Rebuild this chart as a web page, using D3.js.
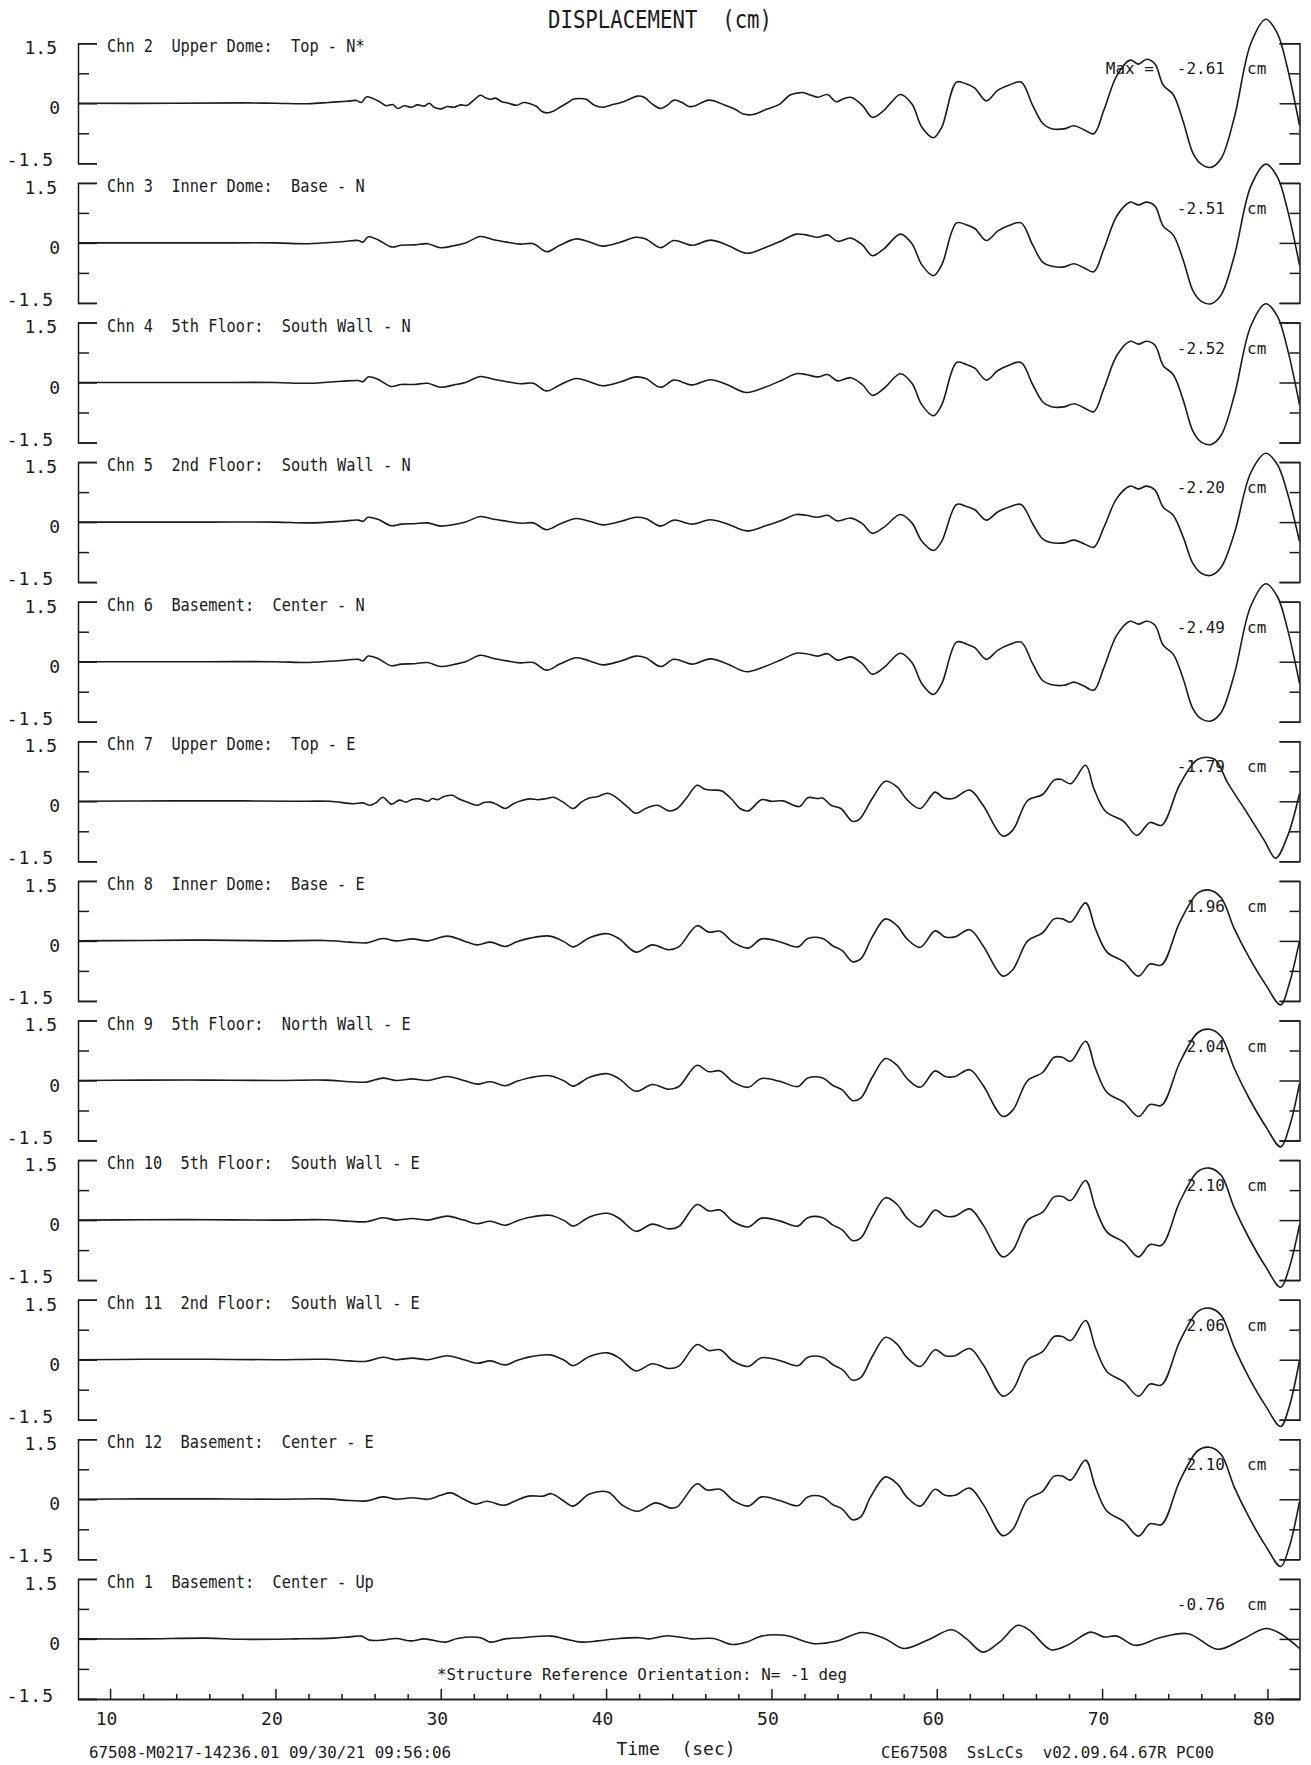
<!DOCTYPE html>
<html>
<head>
<meta charset="utf-8">
<script src="https://cdn.jsdelivr.net/npm/d3@7"></script>
<style>
  body { margin: 0; background: #fff; }
  text { font-family: "DejaVu Sans Mono", monospace; fill: #1a1a1a; }
</style>
</head>
<body>
<div id="chart"></div>
<script>
// displacement traces, [time (sec), cm]
const ch2 = [[8.06,0],[14,0],[18,0.01],[20,0],[22,-0.01],[23.2,0.02],[24.3,0.05],[24.9,0.07],[25.2,0.02],[25.5,0.16],[25.9,0.12],[26.3,0.04],[26.7,-0.06],[27.1,-0.03],[27.4,-0.13],[27.8,-0.06],[28.2,-0.1],[28.6,-0.04],[29.0,-0.07],[29.3,0.0],[29.6,-0.1],[30.0,-0.14],[30.4,-0.08],[30.8,-0.1],[31.2,-0.04],[31.6,-0.05],[32.0,0.08],[32.4,0.2],[32.7,0.14],[33.0,0.1],[33.3,0.13],[33.7,0.04],[34.1,0.0],[34.6,-0.05],[35.0,0.02],[35.4,-0.01],[35.8,-0.08],[36.1,-0.2],[36.4,-0.24],[36.8,-0.2],[37.2,-0.1],[37.7,0.02],[38.0,0.1],[38.4,0.12],[38.8,0.1],[39.3,-0.05],[39.8,-0.1],[40.3,-0.04],[40.9,0.02],[41.4,0.1],[41.9,0.18],[42.3,0.15],[42.8,-0.02],[43.3,-0.13],[43.7,-0.05],[44.1,0.08],[44.6,0.02],[45.0,-0.08],[45.4,-0.06],[45.8,0.02],[46.2,0.08],[46.6,0.05],[47.2,-0.05],[47.8,-0.15],[48.3,-0.27],[48.9,-0.28],[49.7,-0.15],[50.5,-0.02],[51.1,0.2],[51.5,0.25],[51.9,0.27],[52.4,0.2],[52.8,0.15],[53.4,0.22],[53.9,0.04],[54.4,0.12],[54.8,0.15],[55.5,-0.05],[56.1,-0.35],[56.8,-0.18],[57.3,0.05],[57.8,0.22],[58.5,-0.02],[59.1,-0.6],[59.8,-0.86],[60.3,-0.6],[61.2,0.53],[61.8,0.48],[62.3,0.38],[63.0,0.06],[63.7,0.33],[64.4,0.46],[65.1,0.53],[65.8,-0.05],[66.4,-0.5],[66.9,-0.63],[67.7,-0.64],[68.3,-0.56],[68.9,-0.66],[69.5,-0.76],[70.1,-0.18],[70.9,0.7],[71.7,1.08],[72.2,0.98],[72.7,1.1],[73.2,0.98],[73.7,0.45],[74.3,0.22],[74.9,-0.45],[75.5,-1.25],[76.0,-1.52],[76.6,-1.6],[77.2,-1.38],[78.0,-0.35],[79.0,1.5],[79.9,2.1],[80.6,1.75],[81.2,0.9],[81.94,-0.55]];
const ch3 = [[8.06,0],[16,0],[20,0],[22,-0.02],[24,0.03],[25.0,0.06],[25.3,0.02],[25.6,0.15],[26.2,0.08],[27.0,-0.1],[27.6,-0.06],[28.4,-0.05],[29.2,-0.02],[30.0,-0.12],[30.8,-0.07],[31.5,0.0],[32.4,0.16],[33.2,0.08],[34.0,0.02],[34.8,-0.03],[35.6,-0.02],[36.4,-0.22],[37.2,-0.06],[38.2,0.1],[39.0,0.02],[39.8,-0.08],[40.9,0.02],[41.8,0.14],[42.4,0.1],[43.3,-0.12],[44.1,0.06],[45.2,-0.06],[46.3,0.07],[47.3,-0.05],[48.5,-0.26],[49.6,-0.12],[50.6,0.05],[51.5,0.22],[52.1,0.2],[52.8,0.14],[53.4,0.2],[54.0,0.04],[54.8,0.12],[55.5,-0.05],[56.1,-0.32],[56.8,-0.15],[57.8,0.22],[58.5,-0.02],[59.1,-0.55],[59.8,-0.82],[60.3,-0.55],[61.2,0.5],[61.8,0.45],[62.3,0.36],[63.0,0.06],[63.7,0.3],[64.4,0.44],[65.1,0.5],[65.8,-0.05],[66.4,-0.48],[66.9,-0.58],[67.7,-0.6],[68.3,-0.52],[68.9,-0.62],[69.5,-0.72],[70.1,-0.16],[70.9,0.68],[71.7,1.02],[72.2,0.95],[72.7,1.02],[73.2,0.92],[73.7,0.42],[74.3,0.2],[74.9,-0.42],[75.5,-1.2],[76.0,-1.46],[76.6,-1.52],[77.2,-1.3],[78.0,-0.32],[79.0,1.42],[79.9,1.97],[80.6,1.65],[81.2,0.85],[81.94,-0.55]];
const ch4 = [[8.06,0],[16,0],[20,0],[22,-0.02],[24,0.03],[25.0,0.05],[25.3,0.02],[25.6,0.14],[26.2,0.08],[27.0,-0.1],[27.6,-0.05],[28.4,-0.05],[29.2,-0.02],[30.0,-0.12],[30.8,-0.06],[31.5,0.0],[32.4,0.15],[33.2,0.08],[34.0,0.02],[34.8,-0.03],[35.6,-0.02],[36.4,-0.21],[37.2,-0.06],[38.2,0.1],[39.0,0.02],[39.8,-0.08],[40.9,0.02],[41.8,0.14],[42.4,0.1],[43.3,-0.12],[44.1,0.06],[45.2,-0.06],[46.3,0.07],[47.3,-0.05],[48.5,-0.25],[49.6,-0.12],[50.6,0.05],[51.5,0.22],[52.1,0.2],[52.8,0.14],[53.4,0.2],[54.0,0.04],[54.8,0.12],[55.5,-0.05],[56.1,-0.32],[56.8,-0.15],[57.8,0.22],[58.5,-0.02],[59.1,-0.56],[59.8,-0.83],[60.3,-0.56],[61.2,0.5],[61.8,0.45],[62.3,0.36],[63.0,0.06],[63.7,0.3],[64.4,0.44],[65.1,0.5],[65.8,-0.05],[66.4,-0.48],[66.9,-0.6],[67.7,-0.61],[68.3,-0.53],[68.9,-0.63],[69.5,-0.73],[70.1,-0.16],[70.9,0.68],[71.7,1.03],[72.2,0.96],[72.7,1.03],[73.2,0.93],[73.7,0.42],[74.3,0.2],[74.9,-0.43],[75.5,-1.22],[76.0,-1.49],[76.6,-1.55],[77.2,-1.32],[78.0,-0.32],[79.0,1.42],[79.9,1.97],[80.6,1.66],[81.2,0.86],[81.94,-0.55]];
const ch5 = [[8.06,0],[16,0],[20,0],[22,-0.02],[24,0.02],[25.0,0.05],[25.3,0.02],[25.6,0.12],[26.2,0.07],[27.0,-0.09],[27.6,-0.05],[28.4,-0.04],[29.2,-0.02],[30.0,-0.1],[30.8,-0.06],[31.5,0.0],[32.4,0.14],[33.2,0.07],[34.0,0.02],[34.8,-0.03],[35.6,-0.02],[36.4,-0.19],[37.2,-0.05],[38.2,0.09],[39.0,0.02],[39.8,-0.07],[40.9,0.02],[41.8,0.12],[42.4,0.09],[43.3,-0.1],[44.1,0.05],[45.2,-0.05],[46.3,0.06],[47.3,-0.04],[48.5,-0.22],[49.6,-0.1],[50.6,0.04],[51.5,0.19],[52.1,0.17],[52.8,0.12],[53.4,0.17],[54.0,0.03],[54.8,0.1],[55.5,-0.04],[56.1,-0.28],[56.8,-0.13],[57.8,0.19],[58.5,-0.02],[59.1,-0.48],[59.8,-0.71],[60.3,-0.48],[61.2,0.44],[61.8,0.39],[62.3,0.31],[63.0,0.05],[63.7,0.26],[64.4,0.38],[65.1,0.44],[65.8,-0.04],[66.4,-0.42],[66.9,-0.51],[67.7,-0.52],[68.3,-0.45],[68.9,-0.54],[69.5,-0.63],[70.1,-0.14],[70.9,0.6],[71.7,0.9],[72.2,0.83],[72.7,0.9],[73.2,0.8],[73.7,0.37],[74.3,0.17],[74.9,-0.37],[75.5,-1.04],[76.0,-1.28],[76.6,-1.33],[77.2,-1.13],[78.0,-0.28],[79.0,1.24],[79.9,1.72],[80.6,1.44],[81.2,0.74],[81.94,-0.48]];
const ch6 = [[8.06,0],[16,0],[20,0],[22,-0.02],[24,0.03],[25.0,0.06],[25.3,0.02],[25.6,0.14],[26.2,0.08],[27.0,-0.1],[27.6,-0.06],[28.4,-0.05],[29.2,-0.02],[30.0,-0.12],[30.8,-0.07],[31.5,0.0],[32.4,0.16],[33.2,0.08],[34.0,0.02],[34.8,-0.03],[35.6,-0.02],[36.4,-0.21],[37.2,-0.06],[38.2,0.1],[39.0,0.02],[39.8,-0.08],[40.9,0.02],[41.8,0.14],[42.4,0.1],[43.3,-0.12],[44.1,0.06],[45.2,-0.06],[46.3,0.07],[47.3,-0.05],[48.5,-0.25],[49.6,-0.12],[50.6,0.05],[51.5,0.21],[52.1,0.2],[52.8,0.14],[53.4,0.2],[54.0,0.04],[54.8,0.12],[55.5,-0.05],[56.1,-0.31],[56.8,-0.15],[57.8,0.21],[58.5,-0.02],[59.1,-0.55],[59.8,-0.82],[60.3,-0.55],[61.2,0.49],[61.8,0.44],[62.3,0.35],[63.0,0.06],[63.7,0.29],[64.4,0.43],[65.1,0.49],[65.8,-0.05],[66.4,-0.47],[66.9,-0.57],[67.7,-0.59],[68.3,-0.51],[68.9,-0.61],[69.5,-0.71],[70.1,-0.16],[70.9,0.67],[71.7,1.01],[72.2,0.94],[72.7,1.01],[73.2,0.91],[73.7,0.41],[74.3,0.19],[74.9,-0.42],[75.5,-1.18],[76.0,-1.43],[76.6,-1.48],[77.2,-1.27],[78.0,-0.31],[79.0,1.4],[79.9,1.95],[80.6,1.63],[81.2,0.84],[81.94,-0.54]];
const ch7 = [[8.06,0],[14,0.01],[18,0.01],[21,0],[23.3,0.0],[24.7,-0.06],[25.3,-0.04],[25.7,-0.1],[26.1,-0.03],[26.5,0.1],[27.0,-0.07],[27.5,0.03],[27.9,-0.02],[28.3,0.05],[28.7,0.06],[29.2,0.0],[29.5,0.07],[29.8,0.04],[30.2,0.12],[30.7,0.15],[31.1,0.06],[31.6,-0.02],[32.2,-0.1],[32.6,-0.03],[33.0,-0.02],[33.4,-0.08],[33.9,-0.18],[34.4,-0.06],[34.9,0.02],[35.4,0.06],[35.9,0.04],[36.4,0.07],[36.8,0.1],[37.4,-0.02],[38.0,-0.18],[38.5,-0.02],[38.9,0.07],[39.5,0.12],[40.1,0.2],[40.6,0.1],[41.3,-0.14],[41.8,-0.3],[42.4,-0.18],[43.1,-0.1],[43.8,-0.24],[44.3,-0.18],[44.9,0.1],[45.5,0.4],[46.0,0.3],[46.5,0.28],[47.0,0.26],[47.6,0.05],[48.1,-0.18],[48.6,-0.24],[49.4,0.04],[50.0,0.0],[50.7,0.01],[51.7,-0.13],[52.2,0.09],[52.8,0.07],[53.1,0.08],[53.6,-0.1],[54.2,-0.18],[54.9,-0.5],[55.3,-0.46],[56.1,0.07],[56.9,0.5],[57.6,0.36],[58.2,0.04],[59.0,-0.18],[59.9,0.23],[60.4,0.09],[61.0,0.07],[62.0,0.28],[62.8,-0.1],[64.0,-0.87],[64.6,-0.72],[65.5,0.02],[66.4,0.17],[67.1,0.53],[67.5,0.55],[68.1,0.44],[69.0,0.9],[69.5,0.32],[70.2,-0.25],[71.3,-0.5],[72.1,-0.85],[72.9,-0.53],[73.6,-0.6],[74.7,0.42],[75.8,1.05],[76.8,1.05],[77.6,0.46],[78.8,-0.31],[79.8,-0.97],[80.5,-1.42],[81.2,-0.89],[81.94,0.19]];
const ch8 = [[8.06,0],[12,0.01],[16,0.02],[20,0],[23,0.01],[24.5,-0.03],[25.5,-0.05],[26.5,0.06],[27.3,0.0],[28.3,0.05],[29.2,0.0],[30.4,0.12],[31.4,0.0],[32.2,-0.1],[33.0,-0.03],[33.9,-0.14],[34.6,-0.02],[35.4,0.07],[36.6,0.12],[37.5,-0.03],[38.0,-0.15],[39.0,0.08],[40.1,0.18],[40.8,0.05],[41.8,-0.28],[42.8,-0.1],[43.8,-0.22],[44.4,-0.15],[45.5,0.38],[46.2,0.22],[46.9,0.24],[47.7,-0.04],[48.6,-0.18],[49.4,0.05],[50.5,-0.02],[51.6,-0.15],[52.2,0.06],[53.1,0.06],[53.7,-0.12],[54.3,-0.25],[54.9,-0.52],[55.4,-0.45],[56.1,0.1],[56.9,0.55],[57.6,0.38],[58.2,0.05],[59.0,-0.16],[59.9,0.25],[60.5,0.1],[61.1,0.1],[62.0,0.28],[62.8,-0.12],[64.0,-0.88],[64.6,-0.72],[65.5,0.0],[66.4,0.2],[67.1,0.55],[67.6,0.55],[68.1,0.47],[69.0,0.95],[69.6,0.3],[70.3,-0.28],[71.3,-0.52],[72.2,-0.88],[72.9,-0.58],[73.6,-0.6],[74.7,0.47],[75.8,1.2],[76.5,1.27],[77.2,1.08],[78.0,0.3],[78.9,-0.42],[79.9,-1.1],[80.8,-1.6],[81.3,-1.1],[81.94,0.0]];
const ch9 = [[8.06,0],[12,0.01],[16,0.01],[20,0],[23,0.01],[24.5,-0.03],[25.5,-0.04],[26.5,0.06],[27.3,0.0],[28.3,0.04],[29.2,0.0],[30.4,0.1],[31.4,0.0],[32.2,-0.09],[33.0,-0.03],[33.9,-0.13],[34.6,-0.02],[35.4,0.07],[36.6,0.12],[37.5,-0.02],[38.0,-0.14],[39.0,0.08],[40.1,0.17],[40.8,0.04],[41.8,-0.27],[42.8,-0.1],[43.8,-0.22],[44.4,-0.15],[45.5,0.38],[46.2,0.22],[46.9,0.24],[47.7,-0.04],[48.6,-0.17],[49.4,0.05],[50.5,-0.02],[51.6,-0.15],[52.2,0.06],[53.1,0.06],[53.7,-0.12],[54.3,-0.24],[54.9,-0.5],[55.4,-0.44],[56.1,0.08],[56.9,0.55],[57.6,0.38],[58.2,0.05],[59.0,-0.17],[59.9,0.24],[60.5,0.1],[61.1,0.1],[62.0,0.27],[62.8,-0.12],[64.0,-0.9],[64.6,-0.74],[65.5,0.0],[66.4,0.2],[67.1,0.58],[67.6,0.58],[68.1,0.48],[69.0,0.98],[69.6,0.3],[70.3,-0.3],[71.3,-0.54],[72.2,-0.9],[72.9,-0.6],[73.6,-0.62],[74.7,0.45],[75.8,1.2],[76.5,1.28],[77.2,1.1],[78.0,0.3],[78.9,-0.45],[79.9,-1.15],[80.8,-1.66],[81.3,-1.2],[81.94,-0.08]];
const ch10 = [[8.06,0],[12,0.01],[16,0.01],[20,0],[23,0.01],[24.5,-0.03],[25.5,-0.04],[26.5,0.06],[27.3,0.0],[28.3,0.04],[29.2,0.0],[30.4,0.1],[31.4,0.0],[32.2,-0.09],[33.0,-0.03],[33.9,-0.13],[34.6,-0.02],[35.4,0.07],[36.6,0.12],[37.5,-0.02],[38.0,-0.15],[39.0,0.08],[40.1,0.17],[40.8,0.04],[41.8,-0.28],[42.8,-0.1],[43.8,-0.22],[44.4,-0.16],[45.5,0.39],[46.2,0.23],[46.9,0.25],[47.7,-0.04],[48.6,-0.17],[49.4,0.05],[50.5,-0.02],[51.6,-0.15],[52.2,0.06],[53.1,0.06],[53.7,-0.12],[54.3,-0.25],[54.9,-0.51],[55.4,-0.45],[56.1,0.08],[56.9,0.56],[57.6,0.39],[58.2,0.05],[59.0,-0.17],[59.9,0.25],[60.5,0.1],[61.1,0.1],[62.0,0.28],[62.8,-0.12],[64.0,-0.92],[64.6,-0.75],[65.5,0.0],[66.4,0.2],[67.1,0.58],[67.6,0.59],[68.1,0.49],[69.0,0.99],[69.6,0.3],[70.3,-0.3],[71.3,-0.55],[72.2,-0.92],[72.9,-0.61],[73.6,-0.63],[74.7,0.46],[75.8,1.22],[76.5,1.3],[77.2,1.12],[78.0,0.3],[78.9,-0.46],[79.9,-1.17],[80.8,-1.68],[81.3,-1.22],[81.94,-0.12]];
const ch11 = [[8.06,0],[12,0.01],[16,0.01],[20,0],[23,0.01],[24.5,-0.03],[25.5,-0.04],[26.5,0.06],[27.3,0.0],[28.3,0.04],[29.2,0.0],[30.4,0.1],[31.4,0.0],[32.2,-0.09],[33.0,-0.03],[33.9,-0.13],[34.6,-0.02],[35.4,0.07],[36.6,0.12],[37.5,-0.02],[38.0,-0.15],[39.0,0.08],[40.1,0.17],[40.8,0.04],[41.8,-0.28],[42.8,-0.1],[43.8,-0.22],[44.4,-0.16],[45.5,0.38],[46.2,0.23],[46.9,0.25],[47.7,-0.04],[48.6,-0.17],[49.4,0.05],[50.5,-0.02],[51.6,-0.15],[52.2,0.06],[53.1,0.06],[53.7,-0.12],[54.3,-0.25],[54.9,-0.51],[55.4,-0.45],[56.1,0.08],[56.9,0.56],[57.6,0.39],[58.2,0.05],[59.0,-0.17],[59.9,0.25],[60.5,0.1],[61.1,0.1],[62.0,0.28],[62.8,-0.12],[64.0,-0.91],[64.6,-0.75],[65.5,0.0],[66.4,0.2],[67.1,0.58],[67.6,0.58],[68.1,0.48],[69.0,0.98],[69.6,0.3],[70.3,-0.3],[71.3,-0.55],[72.2,-0.91],[72.9,-0.61],[73.6,-0.63],[74.7,0.46],[75.8,1.21],[76.5,1.29],[77.2,1.11],[78.0,0.3],[78.9,-0.46],[79.9,-1.16],[80.8,-1.67],[81.3,-1.2],[81.94,-0.02]];
const ch12 = [[8.06,0],[12,0.01],[16,0.01],[20,0],[23,0.01],[24.5,-0.03],[25.5,-0.04],[26.5,0.06],[27.3,0.0],[28.3,0.04],[29.2,0.0],[30.0,0.1],[30.6,0.16],[31.4,0.0],[32.1,-0.12],[32.8,-0.05],[33.8,-0.15],[34.5,-0.04],[35.3,0.08],[36.2,0.08],[36.7,0.14],[37.4,-0.03],[38.0,-0.17],[39.0,0.13],[40.1,0.18],[41.0,-0.15],[41.9,-0.3],[43.0,-0.09],[43.9,-0.22],[44.3,-0.19],[45.5,0.39],[46.1,0.23],[46.9,0.25],[47.7,-0.03],[48.6,-0.17],[49.4,0.06],[50.5,-0.03],[51.6,-0.16],[52.2,0.06],[53.1,0.06],[53.7,-0.13],[54.3,-0.25],[54.9,-0.51],[55.4,-0.44],[56.0,0.06],[56.9,0.56],[57.6,0.39],[58.2,0.05],[59.0,-0.17],[59.9,0.25],[60.5,0.1],[61.1,0.1],[62.0,0.28],[62.8,-0.12],[64.0,-0.91],[64.6,-0.75],[65.5,0.0],[66.4,0.2],[67.1,0.58],[67.6,0.58],[68.1,0.48],[69.0,0.98],[69.6,0.3],[70.3,-0.3],[71.3,-0.55],[72.2,-0.92],[72.9,-0.61],[73.6,-0.63],[74.7,0.46],[75.8,1.22],[76.5,1.3],[77.2,1.12],[78.0,0.3],[78.9,-0.46],[79.9,-1.17],[80.8,-1.68],[81.3,-1.22],[81.94,-0.06]];
const ch1 = [[8.06,0],[12,0],[15.8,0.02],[18,-0.01],[21.2,0],[23.5,0.02],[24.5,0.05],[25.2,0.07],[25.7,-0.03],[26.5,-0.03],[27.3,0.01],[28.2,-0.05],[29.0,0.0],[30.3,-0.08],[31.0,0.01],[32.4,0.03],[33.0,-0.08],[33.9,0.0],[34.9,0.03],[36.7,0.07],[37.5,0.0],[38.5,-0.08],[39.5,-0.05],[40.8,0.01],[42.0,0.03],[42.6,0.0],[43.7,0.08],[45.2,0.0],[46.5,0.01],[47.6,-0.14],[48.5,-0.08],[49.4,0.07],[50.8,0.09],[52.6,-0.12],[53.9,-0.06],[55.5,0.16],[56.9,0.0],[58.0,-0.24],[59.5,-0.02],[60.9,0.23],[61.8,0.0],[62.8,-0.33],[63.8,-0.08],[64.9,0.34],[65.6,0.22],[66.9,-0.27],[67.9,-0.16],[69.3,0.17],[70.1,0.05],[70.9,0.07],[72.0,-0.16],[73.5,0.03],[75.2,0.13],[77.0,-0.26],[78.4,-0.03],[79.9,0.26],[80.8,0.13],[81.94,-0.24]];

const series = [ch2, ch3, ch4, ch5, ch6, ch7, ch8, ch9, ch10, ch11, ch12, ch1];
const channelNames = [
  "Chn 2  Upper Dome:  Top - N*",
  "Chn 3  Inner Dome:  Base - N",
  "Chn 4  5th Floor:  South Wall - N",
  "Chn 5  2nd Floor:  South Wall - N",
  "Chn 6  Basement:  Center - N",
  "Chn 7  Upper Dome:  Top - E",
  "Chn 8  Inner Dome:  Base - E",
  "Chn 9  5th Floor:  North Wall - E",
  "Chn 10  5th Floor:  South Wall - E",
  "Chn 11  2nd Floor:  South Wall - E",
  "Chn 12  Basement:  Center - E",
  "Chn 1  Basement:  Center - Up"
];
const maxValues = ["-2.61", "-2.51", "-2.52", "-2.20", "-2.49", "-1.79", "1.96", "2.04", "2.10", "2.06", "2.10", "-0.76"];
const yTicks = [-1.5, -0.75, 0, 0.75, 1.5];
const yLabels = ["1.5", "0", "-1.5"];
const xTicks = [10, 20, 30, 40, 50, 60, 70, 80];
const xMinor = [12, 14, 16, 18, 22, 24, 26, 28, 32, 34, 36, 38, 42, 44, 46, 48, 52, 54, 56, 58, 62, 64, 66, 68, 72, 74, 76, 78];

const W = 1311, H = 1765;
const top0 = 43.3, step = 139.6, ph = 120;
const ink = "#1a1a1a";

const svg = d3.select("#chart").append("svg")
    .attr("width", W).attr("height", H)
    .attr("viewBox", [0, 0, W, H]);

const x = d3.scaleLinear().domain([8.06, 81.94]).range([78, 1299.5]);
const xl = x.range()[0], xr = x.range()[1];

// title
svg.append("text")
    .attr("x", 548).attr("y", 28)
    .attr("font-size", 24)
    .attr("textLength", 224).attr("lengthAdjust", "spacingAndGlyphs")
    .style("white-space", "pre")
    .text("DISPLACEMENT  (cm)");

const styleAxis = g => {
  g.select(".domain").attr("stroke", ink).attr("stroke-width", 1.5);
  g.selectAll(".tick line").attr("stroke", ink).attr("stroke-width", 1.5);
};

series.forEach((data, i) => {
  const top = top0 + i * step;
  const y = d3.scaleLinear().domain([-1.5, 1.5]).range([top + ph, top]);
  const g = svg.append("g");

  // left axis, ticks pointing in
  g.append("g")
      .attr("transform", `translate(${xl},0)`)
      .call(d3.axisRight(y).tickValues(yTicks).tickSize(19).tickFormat(""))
      .call(styleAxis)
      .call(a => a.selectAll(".tick line").filter(d => Math.abs(d) === 0.75).attr("x2", 11));

  // right axis
  g.append("g")
      .attr("transform", `translate(${xr},0)`)
      .call(d3.axisLeft(y).tickValues(yTicks).tickSize(20).tickFormat(""))
      .call(styleAxis)
      .call(a => a.selectAll(".tick line").filter(d => Math.abs(d) === 0.75).attr("x2", -10));

  // y labels
  g.selectAll(".ylab")
    .data([[1.5, 10.8, 57], [0, 11, 60], [-1.5, 3, 54]])
    .join("text")
      .attr("x", d => d[2])
      .attr("y", d => y(d[0]) + d[1])
      .attr("text-anchor", "end")
      .attr("font-size", 18)
      .attr("letter-spacing", (d, k) => k === 2 ? 1 : 0)
      .text((d, k) => yLabels[k]);

  // channel label
  const name = channelNames[i];
  g.append("text")
      .attr("x", 107).attr("y", top + 9)
      .attr("font-size", 17)
      .attr("textLength", name.length * 9.2).attr("lengthAdjust", "spacingAndGlyphs")
      .style("white-space", "pre")
      .text(name);

  // max
  if (i === 0) {
    g.append("text").attr("x", 1154).attr("y", top + 31)
        .attr("text-anchor", "end").attr("font-size", 16).text("Max =");
  }
  g.append("text").attr("x", 1225).attr("y", top + 31)
      .attr("text-anchor", "end").attr("font-size", 16).text(maxValues[i]);
  g.append("text").attr("x", 1247).attr("y", top + 31)
      .attr("font-size", 16).text("cm");

  // trace
  const line = d3.line()
      .x(d => x(d[0]))
      .y(d => y(d[1]))
      .curve(d3.curveCatmullRom.alpha(0.5));
  g.append("path")
      .datum(data)
      .attr("fill", "none")
      .attr("stroke", ink)
      .attr("stroke-width", 1.6)
      .attr("stroke-linejoin", "round")
      .attr("d", line);

  // time axis on the last panel
  if (i === series.length - 1) {
    const base = top + ph;
    svg.append("g")
        .attr("transform", `translate(0,${base})`)
        .call(d3.axisBottom(x).tickValues(xMinor).tickSizeInner(-5).tickSizeOuter(0).tickFormat(""))
        .call(styleAxis);
    svg.append("g")
        .attr("transform", `translate(0,${base})`)
        .call(d3.axisBottom(x).tickValues(xTicks).tickSizeInner(-10).tickSizeOuter(0).tickPadding(13))
        .call(styleAxis)
        .call(a => a.selectAll(".tick text")
            .attr("dx", -4)
            .attr("font-size", 18)
            .attr("font-family", "DejaVu Sans Mono, monospace")
            .attr("fill", ink));
  }
});

// bottom notes
svg.append("text")
    .attr("x", 437).attr("y", 1680)
    .attr("font-size", 16)
    .attr("textLength", 410).attr("lengthAdjust", "spacingAndGlyphs")
    .text("*Structure Reference Orientation:  N= -1 deg");
svg.append("text")
    .attr("x", 676).attr("y", 1755)
    .attr("text-anchor", "middle")
    .attr("font-size", 18)
    .style("white-space", "pre")
    .text("Time  (sec)");
svg.append("text")
    .attr("x", 89).attr("y", 1758)
    .attr("font-size", 16)
    .attr("textLength", 362).attr("lengthAdjust", "spacingAndGlyphs")
    .text("67508-M0217-14236.01 09/30/21 09:56:06");
svg.append("text")
    .attr("x", 881).attr("y", 1758)
    .attr("font-size", 16)
    .attr("textLength", 333).attr("lengthAdjust", "spacingAndGlyphs")
    .style("white-space", "pre")
    .text("CE67508  SsLcCs  v02.09.64.67R PC00");
</script>
</body>
</html>
